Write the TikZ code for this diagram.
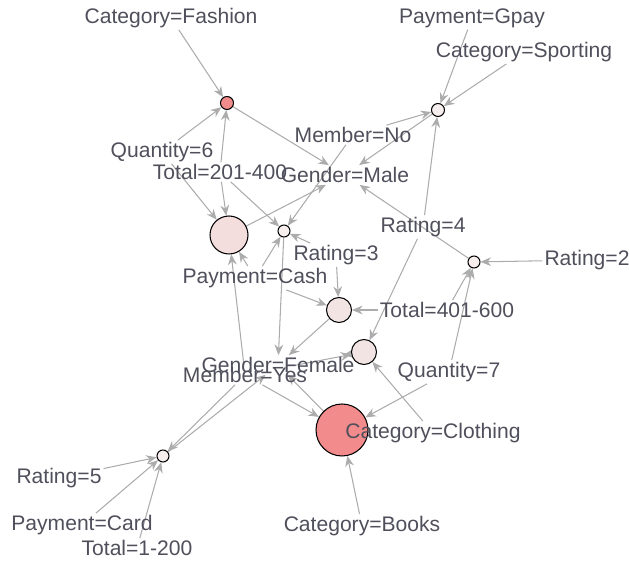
\documentclass[tikz,border=0pt]{standalone}
\usepackage{fontspec}
\setmainfont{Liberation Sans}
\usetikzlibrary{arrows.meta,backgrounds}

\definecolor{itemtext}{RGB}{80,80,92}
\definecolor{edgegray}{RGB}{172,172,172}
\definecolor{liftlow}{RGB}{247,238,238}
\definecolor{liftmid}{RGB}{243,228,228}
\definecolor{lifthigh}{RGB}{243,221,221}
\definecolor{lifttop}{RGB}{242,140,140}

\tikzset{
    item/.style={text=itemtext, inner sep=1pt, font=\fontsize{12}{14}\selectfont},
    rulenode/.style={circle, draw=black, line width=0.6pt, inner sep=0pt, minimum size=#1},
    link/.style={draw=edgegray, line width=0.6pt, -{Stealth[length=6pt,width=5pt]}},
}

\begin{document}
\begin{tikzpicture}[x=0.02cm, y=-0.02cm]
    \useasboundingbox (0,0) rectangle (629,563);

    % rules, sized by support and shaded by lift
    \node[rulenode=0.26cm, fill=lifttop]  (rule1) at (227,103) {};
    \node[rulenode=0.26cm, fill=liftlow]  (rule2) at (438,110) {};
    \node[rulenode=0.76cm, fill=lifthigh] (rule3) at (229,235) {};
    \node[rulenode=0.24cm, fill=liftlow]  (rule4) at (284,231) {};
    \node[rulenode=0.24cm, fill=liftlow]  (rule5) at (474,262) {};
    \node[rulenode=0.50cm, fill=liftmid]  (rule6) at (339,310) {};
    \node[rulenode=0.50cm, fill=liftmid]  (rule7) at (364,352) {};
    \node[rulenode=1.04cm, fill=lifttop]  (rule8) at (342,430) {};
    \node[rulenode=0.24cm, fill=liftlow]  (rule9) at (163,456) {};

    % items
    \node[item] (fashion)  at (171,18)  {Category=Fashion};
    \node[item] (gpay)     at (472,18)  {Payment=Gpay};
    \node[item] (sporting) at (524,52)  {Category=Sporting};
    \node[item] (memno)    at (353,135) {Member=No};
    \node[item] (qty6)     at (162,152) {Quantity=6};
    \node[item] (tot201)   at (220,172) {Total=201-400};
    \node[item] (male)     at (345,175) {Gender=Male};
    \node[item] (rate4)    at (423,227) {Rating=4};
    \node[item] (rate3)    at (336,255) {Rating=3};
    \node[item] (rate2)    at (587,260) {Rating=2};
    \node[item] (cash)     at (255,278) {Payment=Cash};
    \node[item] (tot401)   at (447,310) {Total=401-600};
    \node[item] (female)   at (278,365) {Gender=Female};
    \node[item] (memyes)   at (245,375) {Member=Yes};
    \node[item] (qty7)     at (449,372) {Quantity=7};
    \node[item] (clothing) at (433,433) {Category=Clothing};
    \node[item] (rate5)    at (59,478)  {Rating=5};
    \node[item] (card)     at (82,525)  {Payment=Card};
    \node[item] (tot1)     at (137,548) {Total=1-200};
    \node[item] (books)    at (362,526) {Category=Books};

    \begin{pgfonlayer}{background}
    \draw[link] (fashion) -- (rule1);
    \draw[link] (qty6) -- (rule1);
    \draw[link] (tot201) -- (rule1);
    \draw[link] (rule1) -- (male);

    \draw[link] (gpay) -- (rule2);
    \draw[link] (sporting) -- (rule2);
    \draw[link] (memno) -- (rule2);
    \draw[link] (rate4) -- (rule2);
    \draw[link] (rule2) -- (male);

    \draw[link] (qty6) -- (rule3);
    \draw[link] (tot201) -- (rule3);
    \draw[link] (memyes) -- (rule3);
    \draw[link] (cash) -- (rule3);
    \draw[link] (rule3) -- (male);

    \draw[link] (tot201) -- (rule4);
    \draw[link] (memno) -- (rule4);
    \draw[link] (rate3) -- (rule4);
    \draw[link] (cash) -- (rule4);
    \draw[link] (rule4) -- (female);

    \draw[link] (rate2) -- (rule5);
    \draw[link] (qty7) -- (rule5);
    \draw[link] (tot401) -- (rule5);
    \draw[link] (rule5) -- (male);

    \draw[link] (rate3) -- (rule6);
    \draw[link] (tot401) -- (rule6);
    \draw[link] (cash) -- (rule6);
    \draw[link] (rule6) -- (female);

    \draw[link] (rate4) -- (rule7);
    \draw[link] (clothing) -- (rule7);
    \draw[link] (memyes) -- (rule7);
    \draw[link] (rule7) -- (female);

    \draw[link] (memyes) -- (rule8);
    \draw[link] (qty7) -- (rule8);
    \draw[link] (books) -- (rule8);
    \draw[link] (rule8) -- (female);

    \draw[link] (rate5) -- (rule9);
    \draw[link] (card) -- (rule9);
    \draw[link] (tot1) -- (rule9);
    \draw[link] (memyes) -- (rule9);
    \draw[link] (rule9) -- (female);
    \end{pgfonlayer}
\end{tikzpicture}
\end{document}
